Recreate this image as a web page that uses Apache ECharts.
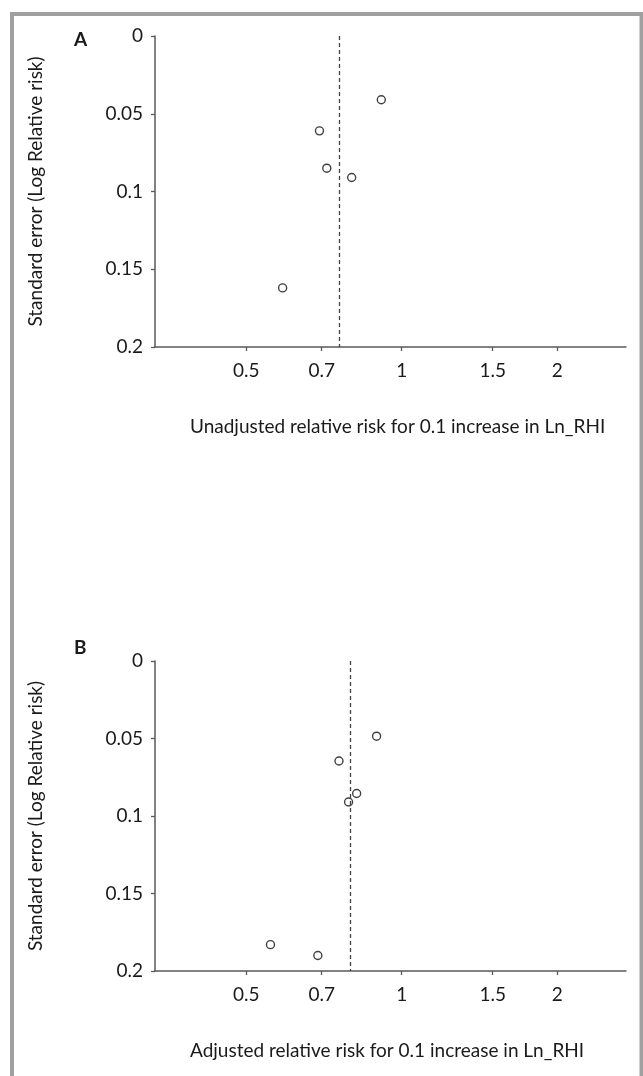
<!DOCTYPE html>
<html>
<head>
<meta charset="utf-8">
<script src="https://cdn.jsdelivr.net/npm/echarts@6/dist/echarts.min.js"></script>
<style>
  html, body { margin: 0; padding: 0; background: #fff; }
  #chart { width: 643px; height: 1076px; }
</style>
</head>
<body>
<div id="chart"></div>
<script>
// panel A: unadjusted
const rrA = [0.913, 0.693, 0.716, 0.800, 0.588];
const seA = [0.041, 0.061, 0.085, 0.091, 0.162];
const pooledA = 0.754;
// panel B: adjusted
const rrB = [0.894, 0.756, 0.818, 0.789, 0.557, 0.688];
const seB = [0.0485, 0.0645, 0.0855, 0.091, 0.183, 0.190];
const pooledB = 0.792;

const xTicks = [0.5, 0.7, 1, 1.5, 2];
const yTicks = [0, 0.05, 0.1, 0.15, 0.2];
const xNames = [
  'Unadjusted relative risk for 0.1 increase in Ln_RHI',
  'Adjusted relative risk for 0.1 increase in Ln_RHI'
];
const yName = 'Standard error (Log Relative risk)';
const panelLabels = ['A', 'B'];

const FONT = 'Lato';
const axisColor = '#595959';
const textColor = '#1a1a1a';

// x is drawn on a natural-log scale: positions are ln(RR), labels show RR
const ln = v => Math.log(v);

const grids = [
  { left: 155, top: 36, width: 471, height: 311 },
  { left: 155, top: 661, width: 471, height: 310 }
];

function xAxisFor(i) {
  return {
    gridIndex: i,
    type: 'value',
    position: 'bottom',
    min: -1.1,
    max: 1.0,
    axisLine: { onZero: false, lineStyle: { color: axisColor, width: 1.5 } },
    axisTick: { length: 4, lineStyle: { color: axisColor, width: 1.3 }, customValues: xTicks.map(ln) },
    axisLabel: {
      customValues: xTicks.map(ln),
      formatter: v => String(Math.round(Math.exp(v) * 10) / 10),
      margin: 14,
      fontFamily: FONT, fontSize: 19, color: textColor
    },
    splitLine: { show: false }
  };
}

function yAxisFor(i) {
  return {
    gridIndex: i,
    type: 'value',
    position: 'left',
    inverse: true,
    min: yTicks[0],
    max: yTicks[yTicks.length - 1],
    interval: 0.05,
    name: yName,
    nameLocation: 'middle',
    nameRotate: 90,
    nameGap: 110,
    nameTextStyle: { fontFamily: FONT, fontSize: 19, color: textColor },
    axisLine: { onZero: false, lineStyle: { color: axisColor, width: 1.5 } },
    axisTick: { length: 4, lineStyle: { color: axisColor, width: 1.3 } },
    axisLabel: { margin: 12, fontFamily: FONT, fontSize: 19, color: textColor },
    splitLine: { show: false }
  };
}

function seriesFor(i, rr, se, pooled) {
  return {
    type: 'scatter',
    xAxisIndex: i,
    yAxisIndex: i,
    symbol: 'circle',
    symbolSize: 8,
    itemStyle: { color: '#fff', borderColor: '#111', borderWidth: 1.4 },
    data: rr.map((r, k) => [ln(r), se[k]]),
    markLine: {
      silent: true,
      symbol: 'none',
      label: { show: false },
      lineStyle: { type: [4, 3], color: '#444', width: 1.3 },
      data: [{ xAxis: ln(pooled) }]
    },
    z: 3
  };
}

const chart = echarts.init(document.getElementById('chart'));
chart.setOption({
  animation: false,
  backgroundColor: '#fff',
  grid: grids,
  xAxis: [xAxisFor(0), xAxisFor(1)],
  yAxis: [yAxisFor(0), yAxisFor(1)],
  series: [
    seriesFor(0, rrA, seA, pooledA),
    seriesFor(1, rrB, seB, pooledB)
  ],
  graphic: [
    {
      type: 'rect',
      shape: { x: 12, y: 14, width: 629.5, height: 1100 },
      style: { fill: 'none', stroke: '#a0a0a0', lineWidth: 4 },
      silent: true
    },
    { type: 'text', left: 74, top: 30, style: { text: panelLabels[0], font: 'bold 19px ' + FONT, fill: textColor } },
    { type: 'text', left: 74, top: 638, style: { text: panelLabels[1], font: 'bold 19px ' + FONT, fill: textColor } },
    { type: 'text', left: 190, top: 417, style: { text: xNames[0], font: '19px ' + FONT, fill: textColor } },
    { type: 'text', left: 190, top: 1041, style: { text: xNames[1], font: '19px ' + FONT, fill: textColor } }
  ]
});
</script>
</body>
</html>
